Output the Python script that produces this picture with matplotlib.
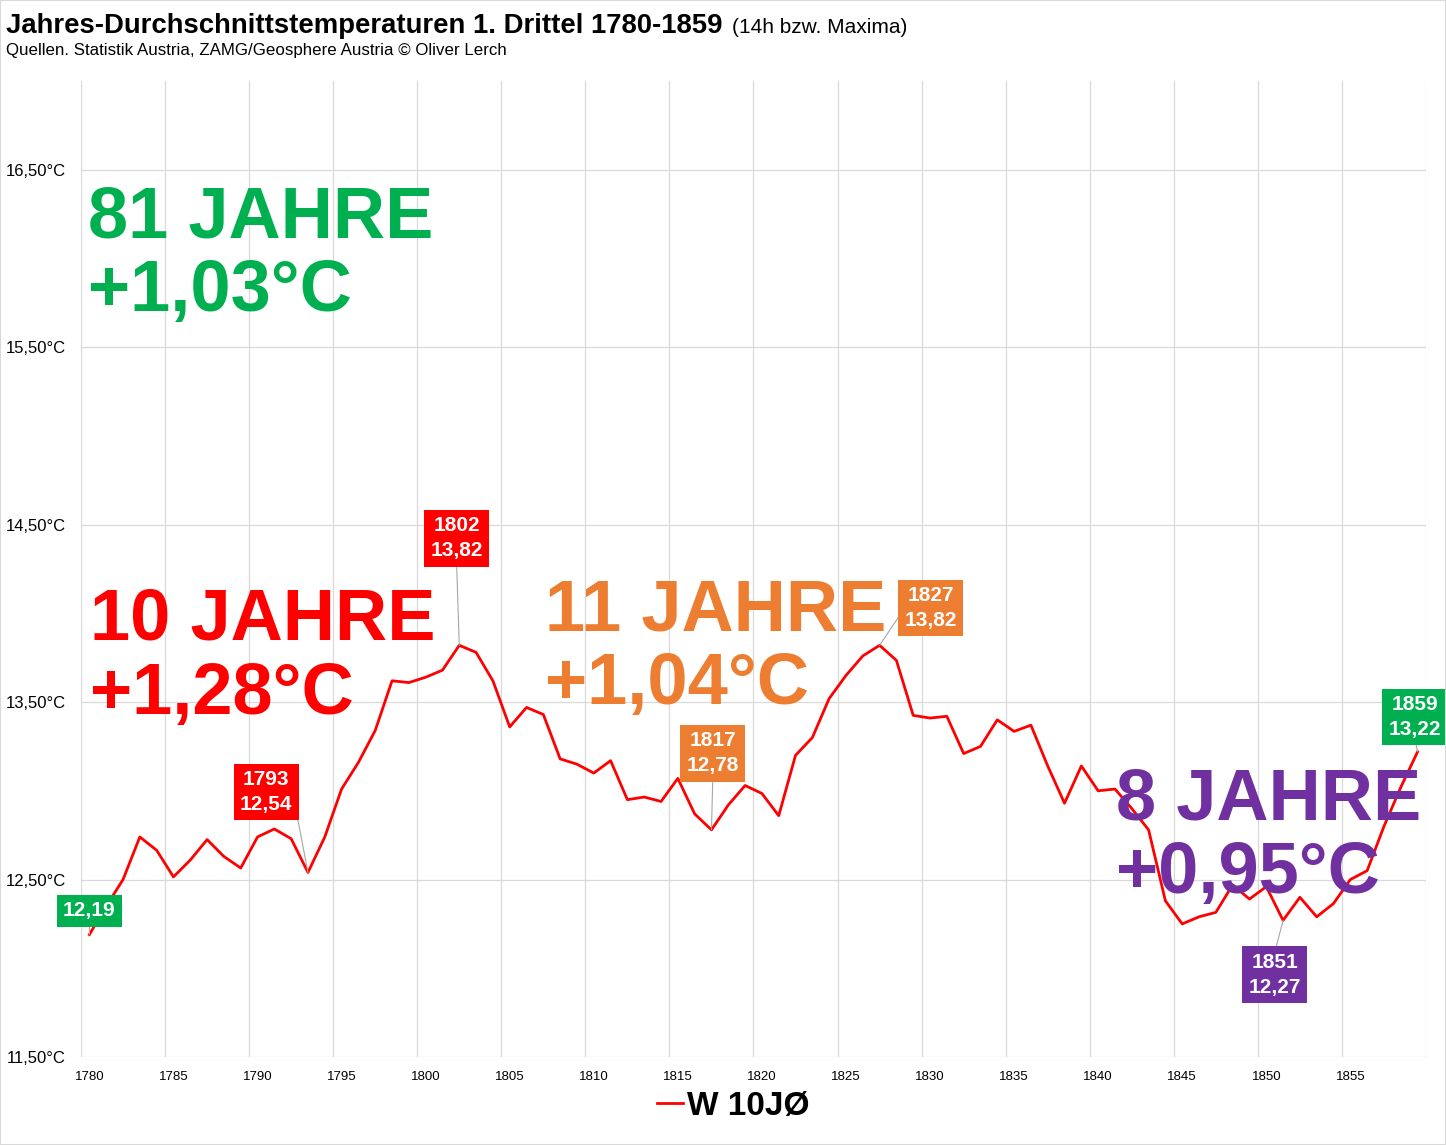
import matplotlib
matplotlib.use("Agg")
import matplotlib.pyplot as plt
from matplotlib import font_manager as fm
from matplotlib.patches import Rectangle

# ---- data ----
years = list(range(1780, 1860))
temps = [
    12.19, 12.35, 12.50, 12.74, 12.665, 12.515, 12.61, 12.725, 12.63, 12.565,
    12.74, 12.785, 12.73, 12.54, 12.74, 13.01, 13.16, 13.34, 13.62, 13.61,
    13.64, 13.68, 13.82, 13.78, 13.62, 13.36, 13.47, 13.43, 13.18, 13.15,
    13.10, 13.17, 12.95, 12.965, 12.94, 13.07, 12.87, 12.78, 12.92, 13.03,
    12.985, 12.86, 13.20, 13.30, 13.52, 13.65, 13.76, 13.82, 13.735, 13.425,
    13.41, 13.42, 13.21, 13.25, 13.40, 13.335, 13.37, 13.14, 12.93, 13.14,
    13.00, 13.01, 12.90, 12.78, 12.38, 12.25, 12.29, 12.315, 12.47, 12.39,
    12.46, 12.27, 12.40, 12.29, 12.365, 12.50, 12.55, 12.80, 13.02, 13.22,
]
series_label = "W 10JØ"

ytick_vals = [11.5, 12.5, 13.5, 14.5, 15.5, 16.5]
xtick_years = list(range(1780, 1860, 5))

# marked years, box colours, (dx, dy) offsets in points, where the leader starts on the box
marks = [1780, 1793, 1802, 1817, 1827, 1851, 1859]
mark_colors = ["#00B050", "#FF0000", "#FF0000", "#ED7D31", "#ED7D31", "#7030A0", "#00B050"]
mark_offsets = [(0, 17), (-30, 58), (-2, 77), (1, 55), (37, 27), (-6, -39), (-2, 25)]
mark_relpos = [(0.5, 0.5), (1, 0.5), (0.5, 0), (0.5, 0), (0, 0.5), (0.5, 1), (0.5, 0)]

# period summaries
periods = ["81 JAHRE\n+1,03°C", "10 JAHRE\n+1,28°C", "11 JAHRE\n+1,04°C", "8 JAHRE\n+0,95°C"]
period_colors = ["#00B050", "#FF0000", "#ED7D31", "#7030A0"]
period_pos = [(1779.94, 16.12), (1780.06, 13.85), (1807.1, 13.905), (1841.04, 12.84)]

def de(v):
    return f"{v:.2f}".replace(".", ",")

names = {f.name for f in fm.fontManager.ttflist}
NARROW = "Liberation Sans Narrow" if "Liberation Sans Narrow" in names else "Liberation Sans"
BOLD = "Liberation Sans"

fig = plt.figure(figsize=(14.46, 11.45), dpi=100)
ax = fig.add_axes([81 / 1446, 1 - 1057 / 1145, (1426 - 81) / 1446, (1057 - 81) / 1145])

ax.plot(years, temps, color="#FF0000", lw=2.0, label=series_label, zorder=3)

ax.set_xlim(1779.5, 1859.5)
ax.set_ylim(11.5, 17.0)
for s in ax.spines.values():
    s.set_visible(False)

grid_kw = dict(color="#D9D9D9", lw=0.9, zorder=0)
for gx in range(0, 81, 5):
    ax.axvline(1779.5 + gx, **grid_kw)
for gy in ytick_vals:
    ax.axhline(gy, **grid_kw)

ax.set_yticks(ytick_vals)
ax.set_yticklabels([de(v) + "°C" for v in ytick_vals], family=NARROW, fontsize=12)
ax.set_xticks(xtick_years)
ax.set_xticklabels([str(y) for y in xtick_years], family=NARROW, fontsize=9.5)
ax.tick_params(length=0)
ax.tick_params(axis="y", pad=11)
ax.tick_params(axis="x", pad=10)

# period texts
for txt, c, (px, py) in zip(periods, period_colors, period_pos):
    top, bottom = txt.split("\n")
    ax.text(px, py, top, color=c, family=BOLD, weight="bold",
            fontsize=52, va="baseline", ha="left", zorder=4)
    ax.text(px, py - 0.415, bottom, color=c, family=BOLD, weight="bold",
            fontsize=52, va="baseline", ha="left", zorder=4)

# value boxes
for yr, c, off, rp in zip(marks, mark_colors, mark_offsets, mark_relpos):
    v = temps[years.index(yr)]
    label = de(v) if yr == 1780 else f"{yr}\n{de(v)}"
    ax.annotate(label, xy=(yr, v), xytext=off, textcoords="offset points",
                ha="center", va="center", color="white", fontsize=15,
                family=BOLD, weight="bold", linespacing=1.4, zorder=6,
                annotation_clip=False,
                bbox=dict(boxstyle="square,pad=0.3", fc=c, ec="none"),
                arrowprops=dict(arrowstyle="-", color="#A6A6A6", lw=0.8,
                                shrinkA=0, shrinkB=0, relpos=rp))

# titles
fig.text(6 / 1446, 1 - 33 / 1145, "Jahres-Durchschnittstemperaturen 1. Drittel 1780-1859",
         family=NARROW, weight="bold", fontsize=19.8, va="baseline", ha="left")
fig.text(732 / 1446, 1 - 33 / 1145, "(14h bzw. Maxima)",
         family=NARROW, fontsize=15, va="baseline", ha="left")
fig.text(6 / 1446, 1 - 55 / 1145,
         "Quellen. Statistik Austria, ZAMG/Geosphere Austria © Oliver Lerch",
         family=NARROW, fontsize=12.2, va="baseline", ha="left")

fig.legend(loc="center", bbox_to_anchor=(733 / 1446, 1 - 1106 / 1145),
           frameon=False, handlelength=0.8, handletextpad=0.1,
           prop=dict(family=NARROW, weight="bold", size=24))

fig.patches.append(Rectangle((0, 0), 1, 1, transform=fig.transFigure, fill=False,
                             ec="#D9D9D9", lw=1.5))

fig.savefig("out.png", dpi=100)
